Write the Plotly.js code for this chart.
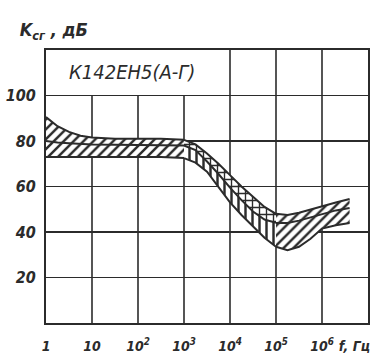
<!DOCTYPE html>
<html>
<head>
<meta charset="utf-8">
<script src="https://cdn.plot.ly/plotly-3.0.1.min.js"></script>
<style>
html,body{margin:0;padding:0;background:#fff;}
#chart{width:375px;height:357px;}
#chart svg text{font-stretch:condensed;}
</style>
</head>
<body>
<div id="chart"></div>
<script>
// log10(f) positions of read points and the band curves (dB)
const logF   = [0, 0.25, 0.5, 0.75, 1, 1.5, 2, 2.5, 3, 3.25, 3.5, 3.75, 4, 4.25, 4.5, 4.75, 5, 5.25, 5.5, 5.75, 6, 6.3, 6.6];
const upper  = [90.5, 86.5, 84, 82.3, 81.5, 81, 81, 81, 80.5, 78.5, 74.5, 70, 65, 60, 55.5, 51, 48, 47.5, 48.5, 50, 51.5, 53, 54.5];
const middle = [80, 79.3, 79, 78.7, 78.5, 78.3, 78.2, 78.2, 78, 76, 71, 65.5, 59.5, 54, 49, 45.5, 44, 44, 45, 46.5, 48, 49.5, 50.5];
const lower  = [73, 73, 73, 73, 73, 73, 73, 73, 72.5, 70.5, 66.5, 60, 53, 47.5, 42.5, 37.5, 33.5, 32, 33.5, 37, 41.5, 43, 44];
const xTickVals = [1, 10, 100, 1000, 10000, 100000, 1000000];
const xTickText = ['1', '10', '10<sup>2</sup>', '10<sup>3</sup>', '10<sup>4</sup>', '10<sup>5</sup>', '10<sup>6</sup>'];
const yTickVals = [20, 40, 60, 80, 100];
const segments = [[0, 8, '/', '/'], [8, 16, '+', '|'], [16, 22, '/', '/']];

const ink = '#2b2b2b';
const freq = logF.map(v => Math.pow(10, v));
const traces = [];
segments.forEach(([a, b, pUp, pLo]) => {
  const xs = freq.slice(a, b + 1);
  const ln = {color: ink, width: 2};
  traces.push({x: xs, y: upper.slice(a, b + 1), mode: 'lines', line: ln, hoverinfo: 'skip'});
  traces.push({x: xs, y: middle.slice(a, b + 1), mode: 'lines', line: ln, fill: 'tonexty',
    fillpattern: {shape: pUp, size: 7, solidity: 0.35, fgcolor: ink, bgcolor: 'white'}, fillcolor: 'white', hoverinfo: 'skip'});
  traces.push({x: xs, y: lower.slice(a, b + 1), mode: 'lines', line: ln, fill: 'tonexty',
    fillpattern: {shape: pLo, size: 7, solidity: 0.35, fgcolor: ink, bgcolor: 'white'}, fillcolor: 'white', hoverinfo: 'skip'});
});

const shapes = [];
for (let k = 1; k <= 6; k++) {
  shapes.push({type: 'line', xref: 'paper', yref: 'y', x0: k / 7, x1: k / 7, y0: 0, y1: k <= 3 ? 100 : 120,
    line: {color: ink, width: 1.6}, layer: 'below'});
}

const fam = '"DejaVu Sans", sans-serif';
const layout = {
  width: 375, height: 357,
  margin: {l: 46, r: 7, t: 50, b: 34},
  paper_bgcolor: '#fff', plot_bgcolor: '#fff',
  showlegend: false,
  xaxis: {type: 'log', range: [0, 7], tickvals: xTickVals, ticktext: xTickText,
    showgrid: false, zeroline: false, showline: true, mirror: true, linecolor: ink, linewidth: 2,
    ticks: '', ticklabelstandoff: 9,
    tickfont: {family: fam, size: 14, color: ink, style: 'italic', weight: 'bold'}},
  yaxis: {range: [0, 120], tickvals: yTickVals, showgrid: true, gridcolor: ink, gridwidth: 1.6,
    zeroline: false, showline: true, mirror: true, linecolor: ink, linewidth: 2,
    ticks: '', ticklabelstandoff: 5,
    tickfont: {family: fam, size: 16, color: ink, style: 'italic', weight: 'bold'}},
  shapes: shapes,
  annotations: [
    {text: 'K<sub>сг</sub> , дБ', xref: 'paper', yref: 'paper', x: -0.1, y: 1.02, xanchor: 'left', yanchor: 'bottom',
      showarrow: false, font: {family: fam, size: 18, color: ink, style: 'italic', weight: 'bold'}},
    {text: 'К142ЕН5(А-Г)', xref: 'paper', yref: 'y', x: 0.043, y: 110.5, xanchor: 'left', yanchor: 'middle',
      showarrow: false, font: {family: fam, size: 20, color: ink, style: 'italic'}},
    {text: 'f, Гц', xref: 'paper', yref: 'paper', x: 1.018, y: -0.085, xanchor: 'right', yanchor: 'middle',
      showarrow: false, font: {family: fam, size: 14, color: ink, style: 'italic', weight: 'bold'}}
  ]
};
Plotly.newPlot('chart', traces, layout, {displayModeBar: false, staticPlot: true});
</script>
</body>
</html>
